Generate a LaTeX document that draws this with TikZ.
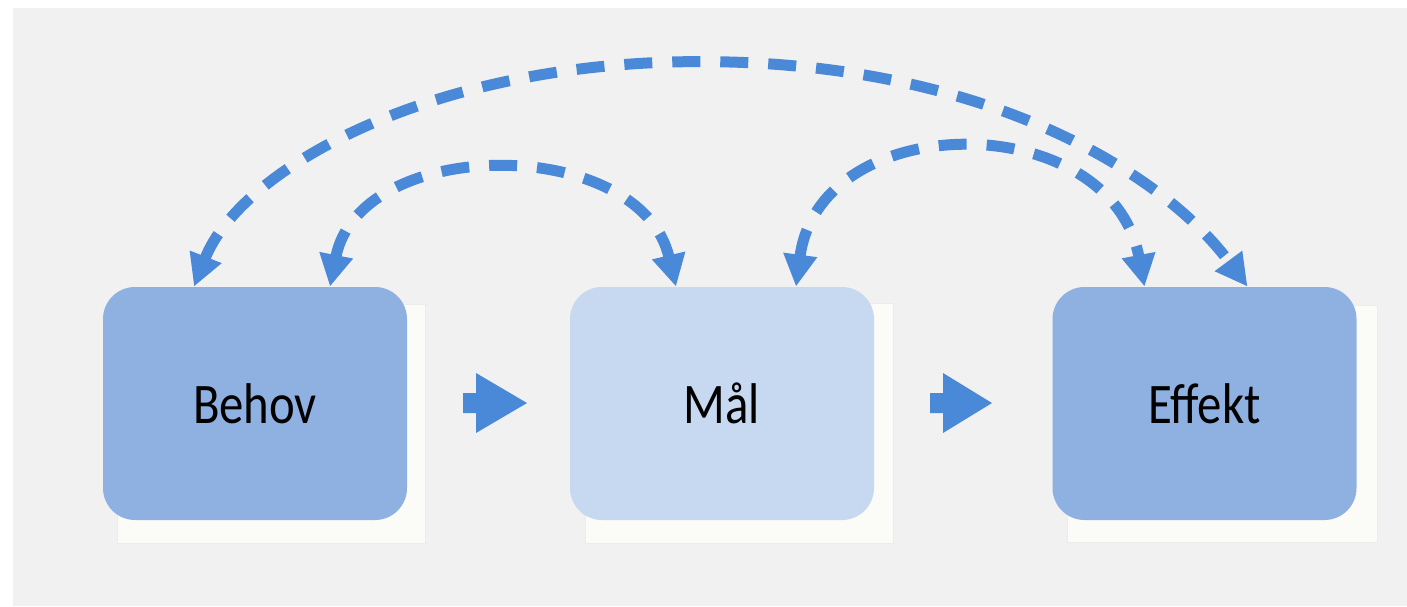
\documentclass[tikz,border=0pt]{standalone}
\usepackage{fontspec}
\newfontfamily\boxfont[FakeStretch=0.85]{Carlito}
\usetikzlibrary{arrows.meta,calc}
\definecolor{bgray}{RGB}{241,241,241}
\definecolor{arrowblue}{RGB}{74,137,216}
\definecolor{darkbox}{RGB}{142,177,225}
\definecolor{lightbox}{RGB}{198,217,241}
\definecolor{shadowcol}{RGB}{251,251,247}
\tikzset{
  stagebox/.style={rounded corners=16pt, minimum width=152pt, minimum height=116.5pt,
    inner sep=0pt, font=\boxfont\fontsize{28.7}{34}\selectfont, text=black},
  shadowrect/.style={fill=shadowcol, draw=white!85!gray, line width=0.4pt},
  dasharc/.style={draw=arrowblue, line width=5.5pt, dash pattern=on 14pt off 10pt,
    {Triangle[length=16pt,width=16pt]}-{Triangle[length=16pt,width=16pt]}},
  blockarrow/.style={fill=arrowblue}
}
\begin{document}
\begin{tikzpicture}[x=0.5pt,y=-0.5pt]
\useasboundingbox[fill=white] (0,0) rectangle (1407,606);
\fill[bgray] (13,8) rectangle (1407,606);
% shadows
\draw[shadowrect] (117,543) rectangle (425,304);
\draw[shadowrect] (585,543) rectangle (893,303);
\draw[shadowrect] (1067,542) rectangle (1377,305);
% boxes
\node[stagebox, fill=darkbox] (behov) at (255,403.5) {Behov};
\node[stagebox, fill=lightbox] (mal) at (722,403.5) {Mål};
\node[stagebox, fill=darkbox] (effekt) at (1204.5,403.5) {Effekt};
% block arrows
\fill[blockarrow] (463,393) -- (476,393) -- (476,373) -- (527,403) -- (476,433) -- (476,413) -- (463,413) -- cycle;
\fill[blockarrow] (930,393) -- (943,393) -- (943,373) -- (992,403) -- (943,433) -- (943,413) -- (930,413) -- cycle;
% dashed feedback arcs
\coordinate (peak) at ($(mal.north)+(-22,-225)$);
\draw[dasharc] ($(behov.north)+(-61,0)$) .. controls +(46,-117) and +(-270,0) .. (peak)
   .. controls +(280,0) and +(-87,-117) .. ($(effekt.north)+(43,0)$);
\draw[dasharc] ($(behov.north)+(75,0)$) .. controls +(30,-152) and +(-36,-152) .. ($(mal.north)+(-46,0)$);
\draw[dasharc] ($(mal.north)+(74,0)$) .. controls +(24,-180) and +(-34,-180) .. ($(effekt.north)+(-60,0)$);
\end{tikzpicture}
\end{document}
